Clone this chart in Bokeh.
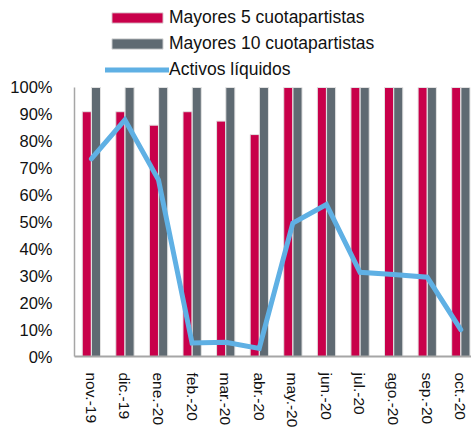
from bokeh.plotting import figure
from bokeh.models import (ColumnDataSource, Range1d, FixedTicker, NumeralTickFormatter,
                          Legend, LegendItem)
from bokeh.transform import dodge
from bokeh.embed import file_html
from bokeh.resources import INLINE

months = ["nov.-19", "dic.-19", "ene.-20", "feb.-20", "mar.-20", "abr.-20",
          "may.-20", "jun.-20", "jul.-20", "ago.-20", "sep.-20", "oct.-20"]
mayores5 = [0.91, 0.91, 0.86, 0.91, 0.875, 0.825, 1.0, 1.0, 1.0, 1.0, 1.0, 1.0]
mayores10 = [1.0, 1.0, 1.0, 1.0, 1.0, 1.0, 1.0, 1.0, 1.0, 1.0, 1.0, 1.0]
activos = [0.735, 0.88, 0.657, 0.05, 0.053, 0.03, 0.496, 0.565, 0.313, 0.305, 0.295, 0.10]
y_ticks = [0, 0.1, 0.2, 0.3, 0.4, 0.5, 0.6, 0.7, 0.8, 0.9, 1.0]

RED = "#c8004a"
GRAY = "#5f6a72"
BLUE = "#5fb0e4"
FONT = "Liberation Sans"
TXT = "#111111"

xs = list(range(len(months)))
src = ColumnDataSource(dict(x=xs, m5=mayores5, m10=mayores10, act=activos))

# frame spans from the top of the figure; the axis itself is bounded to 0..100%
p = figure(width=471, height=431, x_range=Range1d(-0.5, 11.32), y_range=Range1d(0, 1.3234),
           output_backend="svg", toolbar_location=None,
           min_border_left=74, min_border_right=0, min_border_top=0, min_border_bottom=75)
p.outline_line_color = None
p.grid.visible = False

r5 = p.vbar(x=dodge("x", -0.135), top="m5", width=0.27, source=src,
            fill_color=RED, line_color="#e3e3e3", line_width=1)
r10 = p.vbar(x=dodge("x", 0.14), top="m10", width=0.27, source=src,
             fill_color=GRAY, line_color="#e3e3e3", line_width=1)
rl = p.line(x="x", y="act", source=src, line_color=BLUE, line_width=5,
            line_join="miter", line_cap="round")

# axes
p.yaxis.ticker = FixedTicker(ticks=y_ticks)
p.yaxis.bounds = (0, 1)
p.yaxis.formatter = NumeralTickFormatter(format="0%")
p.yaxis.major_tick_line_color = None
p.yaxis.minor_tick_line_color = None
p.yaxis.major_label_standoff = 16
p.yaxis.axis_line_color = "#a6a6a6"
p.yaxis.axis_line_width = 1.5
p.yaxis.major_label_text_font = FONT
p.yaxis.major_label_text_font_size = "16.5px"
p.yaxis.major_label_text_color = TXT

p.xaxis.ticker = FixedTicker(ticks=xs)
p.xaxis.major_label_overrides = {i: m for i, m in enumerate(months)}
p.xaxis.major_label_orientation = "vertical"
p.xaxis.major_tick_line_color = None
p.xaxis.minor_tick_line_color = None
p.xaxis.major_label_standoff = 10
p.xaxis.axis_line_color = "#a6a6a6"
p.xaxis.axis_line_width = 2
p.xaxis.major_label_text_font = FONT
p.xaxis.major_label_text_font_size = "15.5px"
p.xaxis.major_label_text_color = TXT

legend = Legend(items=[
    LegendItem(label="Mayores 5 cuotapartistas", renderers=[r5]),
    LegendItem(label="Mayores 10 cuotapartistas", renderers=[r10]),
    LegendItem(label="Activos líquidos", renderers=[rl]),
], location=(31, 276), orientation="vertical",
    glyph_width=64, glyph_height=13, label_height=17, spacing=5,
    padding=0, margin=0, label_standoff=0,
    border_line_color=None, background_fill_color=None,
    label_text_font=FONT, label_text_font_size="17.5px", label_text_color=TXT)
p.add_layout(legend, "center")

open("out.html", "w").write(file_html(p, INLINE))
